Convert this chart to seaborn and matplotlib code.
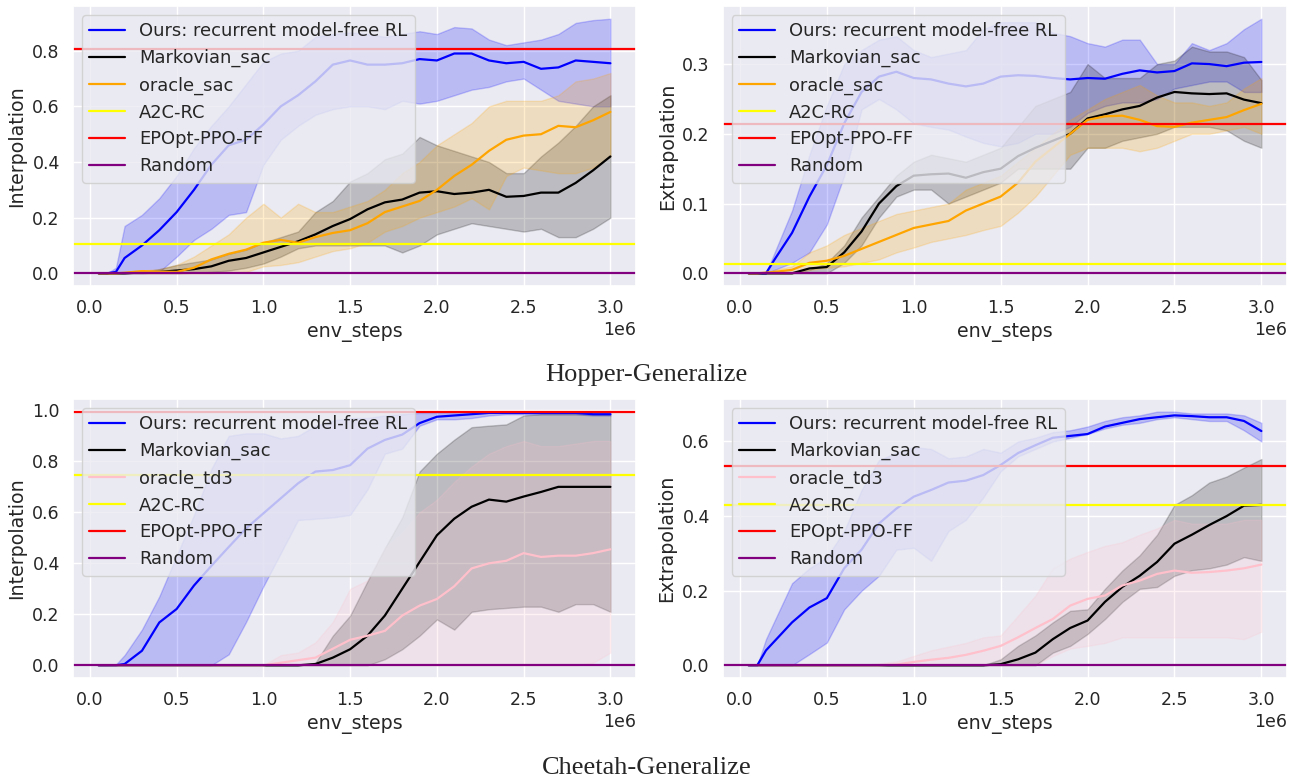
import matplotlib
matplotlib.use("Agg")
import numpy as np
import matplotlib.pyplot as plt
from matplotlib.ticker import MaxNLocator
import seaborn as sns

# env steps (in units of 1e6) shared by every curve
steps = [0.05, 0.1, 0.15, 0.2, 0.3, 0.4, 0.5, 0.6, 0.7, 0.8, 0.9, 1.0, 1.1, 1.2, 1.3, 1.4,
         1.5, 1.6, 1.7, 1.8, 1.9, 2.0, 2.1, 2.2, 2.3, 2.4, 2.5, 2.6, 2.7, 2.8, 2.9, 3.0]

# ---- Hopper-Generalize, interpolation ----
hop_int_ours = [0, 0, 0.005, 0.055, 0.10, 0.155, 0.22, 0.30, 0.39, 0.46, 0.48, 0.535, 0.60, 0.64, 0.69, 0.75,
                0.765, 0.75, 0.75, 0.755, 0.77, 0.765, 0.79, 0.79, 0.765, 0.755, 0.76, 0.735, 0.74, 0.765, 0.76, 0.755]
hop_int_ours_hi = [0, 0, 0.02, 0.17, 0.21, 0.27, 0.35, 0.45, 0.53, 0.60, 0.68, 0.76, 0.79, 0.80, 0.85, 0.86,
                   0.866, 0.86, 0.85, 0.86, 0.87, 0.86, 0.885, 0.88, 0.84, 0.82, 0.83, 0.84, 0.86, 0.90, 0.91, 0.915]
hop_int_ours_lo = [0, 0, 0, 0, 0, 0.005, 0.06, 0.12, 0.16, 0.21, 0.22, 0.39, 0.48, 0.53, 0.57, 0.59,
                   0.60, 0.60, 0.59, 0.62, 0.61, 0.62, 0.64, 0.66, 0.67, 0.69, 0.70, 0.66, 0.62, 0.61, 0.60, 0.60]
hop_int_markov = [0, 0, 0, 0, 0.003, 0.005, 0.01, 0.015, 0.025, 0.045, 0.055, 0.075, 0.095, 0.115, 0.14, 0.17,
                  0.195, 0.23, 0.255, 0.265, 0.29, 0.295, 0.285, 0.29, 0.30, 0.275, 0.278, 0.29, 0.29, 0.325, 0.37, 0.42]
hop_int_markov_hi = [0, 0, 0, 0, 0.005, 0.015, 0.03, 0.04, 0.05, 0.07, 0.085, 0.11, 0.13, 0.15, 0.22, 0.26,
                     0.33, 0.36, 0.41, 0.43, 0.49, 0.46, 0.44, 0.42, 0.40, 0.36, 0.36, 0.42, 0.47, 0.53, 0.60, 0.64]
hop_int_markov_lo = [0, 0, 0, 0, 0, 0, 0, 0.002, 0.005, 0.01, 0.02, 0.035, 0.06, 0.09, 0.10, 0.10,
                     0.10, 0.10, 0.10, 0.075, 0.10, 0.14, 0.16, 0.18, 0.17, 0.16, 0.15, 0.16, 0.13, 0.13, 0.16, 0.20]
hop_int_oracle = [0, 0, 0, 0.002, 0.008, 0.006, 0.005, 0.02, 0.05, 0.07, 0.085, 0.11, 0.12, 0.11, 0.13, 0.145,
                  0.155, 0.18, 0.22, 0.24, 0.26, 0.30, 0.35, 0.39, 0.44, 0.48, 0.495, 0.50, 0.53, 0.525, 0.55, 0.58]
hop_int_oracle_hi = [0, 0, 0.003, 0.005, 0.01, 0.015, 0.03, 0.06, 0.10, 0.14, 0.20, 0.25, 0.20, 0.25, 0.22, 0.22,
                     0.24, 0.26, 0.30, 0.36, 0.40, 0.46, 0.50, 0.54, 0.60, 0.62, 0.62, 0.62, 0.64, 0.69, 0.70, 0.72]
hop_int_oracle_lo = [0, 0, 0, 0, 0, 0, 0, 0, 0, 0.003, 0.005, 0.025, 0.03, 0.04, 0.06, 0.08,
                     0.09, 0.11, 0.15, 0.17, 0.20, 0.22, 0.24, 0.27, 0.23, 0.35, 0.38, 0.37, 0.36, 0.36, 0.38, 0.42]
hop_int_refs = [0.105, 0.806, 0.0]   # A2C-RC, EPOpt-PPO-FF, Random

# ---- Hopper-Generalize, extrapolation ----
hop_ext_ours = [0, 0, 0, 0.02, 0.058, 0.11, 0.155, 0.215, 0.26, 0.282, 0.289, 0.28, 0.278, 0.272, 0.268, 0.272,
                0.282, 0.284, 0.283, 0.28, 0.278, 0.28, 0.279, 0.286, 0.291, 0.288, 0.29, 0.301, 0.30, 0.297, 0.302, 0.303]
hop_ext_ours_hi = [0, 0, 0, 0.03, 0.09, 0.17, 0.24, 0.30, 0.32, 0.335, 0.34, 0.32, 0.31, 0.315, 0.32, 0.35,
                   0.36, 0.36, 0.36, 0.345, 0.34, 0.33, 0.325, 0.335, 0.335, 0.30, 0.30, 0.33, 0.32, 0.33, 0.35, 0.365]
hop_ext_ours_lo = [0, 0, 0, 0.005, 0.015, 0.03, 0.07, 0.14, 0.235, 0.25, 0.235, 0.215, 0.21, 0.206, 0.196, 0.187,
                   0.182, 0.187, 0.20, 0.20, 0.21, 0.23, 0.24, 0.245, 0.245, 0.25, 0.265, 0.27, 0.275, 0.275, 0.26, 0.26]
hop_ext_markov = [0, 0, 0, 0, 0, 0.007, 0.009, 0.03, 0.06, 0.10, 0.125, 0.14, 0.142, 0.143, 0.137, 0.145,
                  0.15, 0.168, 0.18, 0.19, 0.20, 0.222, 0.228, 0.235, 0.24, 0.252, 0.26, 0.258, 0.257, 0.258, 0.249, 0.244]
hop_ext_markov_hi = [0, 0, 0, 0, 0, 0.005, 0.015, 0.04, 0.08, 0.11, 0.14, 0.16, 0.17, 0.165, 0.16, 0.17,
                     0.18, 0.21, 0.24, 0.25, 0.26, 0.30, 0.28, 0.28, 0.28, 0.30, 0.305, 0.325, 0.318, 0.318, 0.31, 0.277]
hop_ext_markov_lo = [0, 0, 0, 0, 0, 0, 0, 0.015, 0.04, 0.08, 0.11, 0.12, 0.12, 0.10, 0.11, 0.12,
                     0.13, 0.15, 0.15, 0.15, 0.15, 0.18, 0.18, 0.19, 0.195, 0.20, 0.21, 0.21, 0.21, 0.205, 0.19, 0.18]
hop_ext_oracle = [0, 0, 0.001, 0.002, 0.005, 0.015, 0.018, 0.025, 0.035, 0.045, 0.055, 0.065, 0.07, 0.075, 0.09, 0.10,
                  0.11, 0.13, 0.16, 0.18, 0.20, 0.22, 0.225, 0.226, 0.22, 0.211, 0.21, 0.216, 0.22, 0.224, 0.234, 0.243]
hop_ext_oracle_hi = [0, 0, 0.002, 0.005, 0.01, 0.03, 0.04, 0.055, 0.065, 0.075, 0.085, 0.09, 0.095, 0.10, 0.12, 0.13,
                     0.14, 0.16, 0.18, 0.20, 0.22, 0.235, 0.25, 0.26, 0.27, 0.255, 0.245, 0.245, 0.24, 0.245, 0.265, 0.28]
hop_ext_oracle_lo = [0, 0, 0, 0, 0, 0.005, 0.008, 0.01, 0.015, 0.02, 0.03, 0.037, 0.045, 0.05, 0.055, 0.062,
                     0.068, 0.087, 0.11, 0.14, 0.17, 0.18, 0.18, 0.18, 0.175, 0.18, 0.19, 0.20, 0.20, 0.205, 0.21, 0.20]
hop_ext_refs = [0.0135, 0.214, 0.0]

# ---- Cheetah-Generalize, interpolation ----
che_int_ours = [0, 0, 0, 0.005, 0.057, 0.168, 0.221, 0.313, 0.39, 0.464, 0.537, 0.596, 0.655, 0.714, 0.76, 0.766,
                0.785, 0.85, 0.884, 0.905, 0.95, 0.975, 0.98, 0.985, 0.99, 0.99, 0.99, 0.99, 0.99, 0.99, 0.985, 0.985]
che_int_ours_hi = [0, 0, 0.003, 0.04, 0.14, 0.27, 0.43, 0.59, 0.77, 0.90, 0.91, 0.91, 0.89, 0.90, 0.94, 0.96,
                   0.97, 0.97, 0.98, 0.985, 0.99, 0.99, 0.99, 0.99, 0.995, 0.995, 0.995, 0.995, 0.995, 0.995, 0.995, 0.995]
che_int_ours_lo = [0, 0, 0, 0, 0, 0, 0, 0, 0, 0.043, 0.17, 0.31, 0.44, 0.57, 0.575, 0.58,
                   0.59, 0.69, 0.83, 0.85, 0.94, 0.965, 0.965, 0.97, 0.98, 0.985, 0.985, 0.985, 0.985, 0.985, 0.98, 0.98]
che_int_markov = [0, 0, 0, 0, 0, 0, 0, 0, 0, 0, 0, 0, 0, 0, 0.005, 0.03,
                  0.063, 0.116, 0.195, 0.30, 0.405, 0.51, 0.575, 0.622, 0.65, 0.642, 0.662, 0.68, 0.70, 0.70, 0.70, 0.70]
che_int_markov_hi = [0, 0, 0, 0, 0, 0, 0, 0, 0, 0, 0, 0, 0, 0, 0.01, 0.116,
                     0.195, 0.33, 0.46, 0.58, 0.76, 0.83, 0.885, 0.934, 0.94, 0.945, 0.98, 0.985, 0.985, 0.985, 0.985, 0.985]
che_int_markov_lo = [0, 0, 0, 0, 0, 0, 0, 0, 0, 0, 0, 0, 0, 0, 0, 0,
                     0, 0, 0.024, 0.063, 0.116, 0.18, 0.14, 0.21, 0.22, 0.225, 0.23, 0.23, 0.21, 0.24, 0.24, 0.21]
che_int_oracle = [0, 0, 0, 0, 0, 0, 0, 0, 0, 0, 0, 0, 0.01, 0.02, 0.03, 0.065,
                  0.10, 0.116, 0.135, 0.195, 0.234, 0.26, 0.31, 0.38, 0.40, 0.41, 0.44, 0.425, 0.43, 0.43, 0.44, 0.455]
che_int_oracle_hi = [0, 0, 0, 0, 0, 0, 0, 0, 0, 0, 0, 0, 0.04, 0.05, 0.09, 0.17,
                     0.30, 0.333, 0.46, 0.52, 0.60, 0.65, 0.72, 0.78, 0.83, 0.86, 0.88, 0.86, 0.86, 0.87, 0.88, 0.88]
che_int_oracle_lo = [0, 0, 0, 0, 0, 0, 0, 0, 0, 0, 0, 0, 0, 0, 0, 0,
                     0, 0, 0, 0, 0, 0, 0, 0, 0, 0, 0, 0, 0, 0, 0.01, 0.05]
che_int_refs = [0.748, 0.995, 0.0]

# ---- Cheetah-Generalize, extrapolation ----
che_ext_ours = [0, 0, 0.04, 0.065, 0.115, 0.155, 0.18, 0.26, 0.31, 0.38, 0.42, 0.452, 0.47, 0.49, 0.495, 0.51,
                0.537, 0.569, 0.59, 0.61, 0.615, 0.62, 0.64, 0.65, 0.66, 0.665, 0.67, 0.668, 0.665, 0.665, 0.655, 0.628]
che_ext_ours_hi = [0, 0, 0.07, 0.12, 0.22, 0.26, 0.29, 0.36, 0.47, 0.55, 0.57, 0.585, 0.58, 0.555, 0.56, 0.58,
                   0.57, 0.60, 0.61, 0.625, 0.63, 0.64, 0.655, 0.665, 0.67, 0.68, 0.68, 0.675, 0.675, 0.675, 0.67, 0.65]
che_ext_ours_lo = [0, 0, 0, 0, 0, 0.03, 0.061, 0.15, 0.20, 0.24, 0.31, 0.315, 0.28, 0.36, 0.39, 0.45,
                   0.52, 0.56, 0.58, 0.60, 0.61, 0.62, 0.635, 0.645, 0.65, 0.66, 0.665, 0.66, 0.655, 0.655, 0.63, 0.60]
che_ext_markov = [0, 0, 0, 0, 0, 0, 0, 0, 0, 0, 0, 0, 0, 0, 0, 0,
                  0.003, 0.016, 0.034, 0.07, 0.10, 0.12, 0.17, 0.21, 0.24, 0.277, 0.326, 0.35, 0.376, 0.40, 0.428, 0.43]
che_ext_markov_hi = [0, 0, 0, 0, 0, 0, 0, 0, 0, 0, 0, 0, 0, 0, 0, 0,
                     0.016, 0.052, 0.08, 0.115, 0.146, 0.15, 0.205, 0.254, 0.295, 0.35, 0.43, 0.456, 0.49, 0.506, 0.53, 0.553]
che_ext_markov_lo = [0, 0, 0, 0, 0, 0, 0, 0, 0, 0, 0, 0, 0, 0, 0, 0,
                     0, 0, 0, 0.034, 0.052, 0.084, 0.124, 0.17, 0.205, 0.21, 0.24, 0.255, 0.26, 0.27, 0.29, 0.28]
che_ext_oracle = [0, 0, 0, 0, 0, 0, 0, 0, 0, 0, 0.002, 0.009, 0.015, 0.02, 0.028, 0.039,
                  0.052, 0.075, 0.10, 0.124, 0.16, 0.178, 0.187, 0.214, 0.227, 0.245, 0.254, 0.248, 0.25, 0.254, 0.26, 0.27]
che_ext_oracle_hi = [0, 0, 0, 0, 0, 0, 0, 0, 0, 0.005, 0.01, 0.025, 0.04, 0.05, 0.06, 0.075,
                     0.08, 0.133, 0.187, 0.26, 0.286, 0.304, 0.32, 0.33, 0.35, 0.367, 0.39, 0.38, 0.38, 0.38, 0.39, 0.39]
che_ext_oracle_lo = [0, 0, 0, 0, 0, 0, 0, 0, 0, 0, 0, 0, 0, 0, 0, 0,
                     0, 0, 0, 0.025, 0.045, 0.052, 0.06, 0.075, 0.075, 0.075, 0.075, 0.075, 0.075, 0.075, 0.07, 0.09]
che_ext_refs = [0.431, 0.535, 0.0]

ref_names = ["A2C-RC", "EPOpt-PPO-FF", "Random"]
ref_colors = ["yellow", "red", "purple"]

sns.set_theme(style="darkgrid")
plt.rcParams["font.family"] = ["DejaVu Sans"]

fig = plt.figure(figsize=(12.94, 7.8), dpi=100)
axes = [
    fig.add_axes([0.0564, 0.6333, 0.4351, 0.3590]),
    fig.add_axes([0.5587, 0.6333, 0.4359, 0.3590]),
    fig.add_axes([0.0564, 0.1308, 0.4351, 0.3577]),
    fig.add_axes([0.5587, 0.1308, 0.4359, 0.3577]),
]

x = np.array(steps) * 1e6

panels = [
    ("Interpolation", "oracle_sac", "orange",
     (hop_int_ours, hop_int_ours_lo, hop_int_ours_hi),
     (hop_int_markov, hop_int_markov_lo, hop_int_markov_hi),
     (hop_int_oracle, hop_int_oracle_lo, hop_int_oracle_hi), hop_int_refs),
    ("Extrapolation", "oracle_sac", "orange",
     (hop_ext_ours, hop_ext_ours_lo, hop_ext_ours_hi),
     (hop_ext_markov, hop_ext_markov_lo, hop_ext_markov_hi),
     (hop_ext_oracle, hop_ext_oracle_lo, hop_ext_oracle_hi), hop_ext_refs),
    ("Interpolation", "oracle_td3", "pink",
     (che_int_ours, che_int_ours_lo, che_int_ours_hi),
     (che_int_markov, che_int_markov_lo, che_int_markov_hi),
     (che_int_oracle, che_int_oracle_lo, che_int_oracle_hi), che_int_refs),
    ("Extrapolation", "oracle_td3", "pink",
     (che_ext_ours, che_ext_ours_lo, che_ext_ours_hi),
     (che_ext_markov, che_ext_markov_lo, che_ext_markov_hi),
     (che_ext_oracle, che_ext_oracle_lo, che_ext_oracle_hi), che_ext_refs),
]

for ax, (ylabel, oracle_name, oracle_color, ours, markov, oracle, refs) in zip(axes, panels):
    curves = [
        (ours, "blue", "Ours: recurrent model-free RL"),
        (markov, "black", "Markovian_sac"),
        (oracle, oracle_color, oracle_name),
    ]
    for (mean, lo, hi), color, name in curves:
        sns.lineplot(x=x, y=mean, ax=ax, color=color, label=name, linewidth=1.6)
        ax.fill_between(x, lo, hi, color=color, alpha=0.2)
    for val, name, color in zip(refs, ref_names, ref_colors):
        ax.axhline(val, color=color, label=name, linewidth=1.6)

    ax.yaxis.set_major_locator(MaxNLocator(nbins=6, steps=[1, 2, 5, 10]))
    ax.set_xlabel("env_steps", fontsize=13.7)
    ax.set_ylabel(ylabel, fontsize=13.7)
    ax.tick_params(labelsize=12.5)
    ax.xaxis.get_offset_text().set_fontsize(12.5)
    ax.legend(loc="upper left", fontsize=12.9)

fig.text(0.4992, 0.5115, "Hopper-Generalize", ha="center", va="baseline",
         family="Liberation Serif", fontsize=19)
fig.text(0.5, 0.0077, "Cheetah-Generalize", ha="center", va="baseline",
         family="Liberation Serif", fontsize=19)

fig.savefig("out.png", dpi=100)
